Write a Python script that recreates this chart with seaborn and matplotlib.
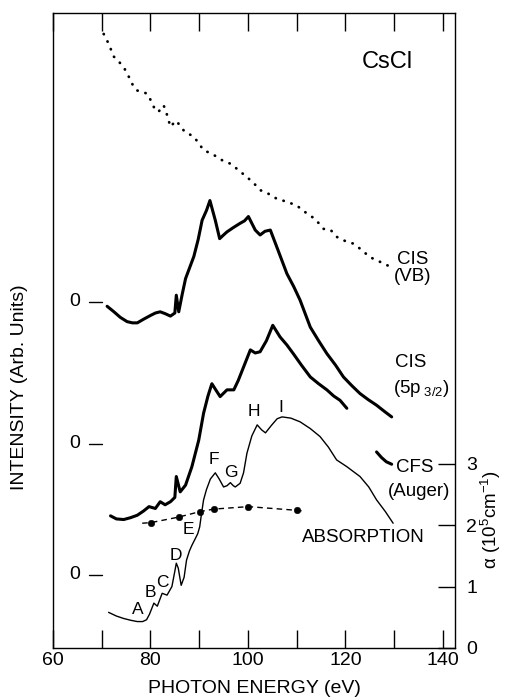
import matplotlib
matplotlib.use("Agg")
import matplotlib.pyplot as plt
import seaborn as sns
import pandas as pd

# ---------------- data (photon energy in eV, vertical position in alpha units) ----------------
vb_x = [70.4, 71.3, 72.5, 73.4, 74.5, 75.2, 75.9, 76.6, 77.3, 78.2, 79.3, 80.0, 80.7, 81.6, 82.7, 83.3,
        84.1, 85.2, 86.1, 87.0, 88.9, 90.0, 90.9, 92.3, 93.7, 95.0, 96.4, 98.0, 99.8, 101.0, 102.5,
        104.0, 105.9, 108.0, 110.0, 112.1, 113.8, 115.5, 117.0, 118.2, 120.0, 121.6, 123.3, 125.0,
        126.7, 128.4, 129.8]
vb_y = [9.99, 9.85, 9.62, 9.55, 9.45, 9.35, 9.24, 9.12, 9.07, 9.05, 9.02, 8.92, 8.80, 8.72, 8.83, 8.70,
        8.48, 8.58, 8.50, 8.40, 8.32, 8.20, 8.10, 8.05, 7.99, 7.92, 7.88, 7.78, 7.66, 7.58, 7.45,
        7.40, 7.31, 7.26, 7.20, 7.07, 6.98, 6.82, 6.80, 6.69, 6.62, 6.58, 6.48, 6.36, 6.30, 6.23, 6.20]

p32_x = [71.1, 72.5, 73.8, 75.2, 76.3, 77.3, 78.6, 80.0, 81.0, 82.0, 83.0, 84.1, 85.0, 85.3, 85.8,
         86.5, 87.2, 88.0, 88.9, 89.8, 90.6, 91.5, 92.2, 93.3, 94.2, 95.0, 95.7, 97.0, 98.4, 99.3,
         100.1, 101.5, 102.5, 103.5, 104.6, 105.9, 107.0, 108.0, 109.4, 110.7, 112.8, 114.5, 116.2,
         118.0, 119.6, 121.3, 123.0, 124.7, 126.4, 128.0, 129.5]
p32_y = [5.56, 5.47, 5.38, 5.31, 5.29, 5.29, 5.35, 5.41, 5.45, 5.47, 5.44, 5.40, 5.45, 5.74, 5.47,
         5.75, 6.01, 6.18, 6.37, 6.65, 6.96, 7.12, 7.28, 6.96, 6.66, 6.72, 6.77, 6.84, 6.91, 6.95,
         7.02, 6.80, 6.72, 6.78, 6.80, 6.53, 6.30, 6.09, 5.88, 5.66, 5.22, 5.00, 4.79, 4.60, 4.41,
         4.27, 4.14, 4.04, 3.95, 3.85, 3.76]

cfs_x = [71.8, 73.0, 74.5, 75.9, 77.3, 78.6, 79.7, 81.0, 82.0, 83.0, 84.1, 85.0, 85.3, 86.1, 87.2,
         88.5, 89.9, 90.9, 91.8, 92.6, 93.4, 94.3, 95.7, 97.1, 98.0, 99.1, 100.5, 101.5, 102.5,
         103.8, 105.1, 106.6, 108.0, 109.3, 111.0, 112.8, 114.5, 116.2, 117.6, 118.9, 120.3]
cfs_y = [2.15, 2.10, 2.09, 2.12, 2.16, 2.23, 2.30, 2.27, 2.38, 2.33, 2.38, 2.45, 2.79, 2.54, 2.65,
         2.95, 3.38, 3.82, 4.10, 4.30, 4.20, 4.09, 4.20, 4.20, 4.35, 4.57, 4.85, 4.80, 4.82,
         5.00, 5.25, 5.06, 4.93, 4.79, 4.60, 4.41, 4.30, 4.20, 4.10, 4.03, 3.90]

cfs_tail_x = [126.4, 127.4, 128.4, 129.5]
cfs_tail_y = [3.19, 3.10, 3.03, 2.99]

abs_x = [71.4, 73.0, 74.5, 76.0, 77.3, 78.4, 79.2, 79.8, 80.7, 81.4, 82.4, 83.4, 84.4, 85.0, 85.3,
         85.7, 86.3, 86.9, 87.4, 88.0, 88.5, 89.2, 89.7, 90.1, 90.5, 90.9, 91.5, 92.3, 93.3, 94.1,
         95.0, 95.7, 96.4, 97.0, 97.4, 98.4, 99.1, 99.8, 100.8, 101.9, 102.8, 103.6, 104.8, 106.0,
         107.0, 108.8, 110.7, 112.8, 114.8, 116.5, 118.2, 120.3, 123.0, 124.8, 126.4, 128.2, 129.8]
abs_y = [0.58, 0.52, 0.48, 0.45, 0.43, 0.43, 0.46, 0.55, 0.73, 0.68, 0.89, 0.86, 1.00, 1.25, 1.38,
         1.30, 1.02, 1.15, 1.43, 1.58, 1.67, 1.78, 1.86, 1.97, 2.20, 2.41, 2.58, 2.75, 2.85, 2.75,
         2.62, 2.64, 2.69, 2.64, 2.62, 2.68, 2.85, 3.17, 3.45, 3.63, 3.55, 3.50, 3.62, 3.73,
         3.76, 3.74, 3.68, 3.57, 3.44, 3.27, 3.06, 2.95, 2.79, 2.62, 2.41, 2.22, 2.03]

absdot_x = [80.1, 85.8, 90.2, 93.0, 100.1, 110.0]
absdot_y = [2.04, 2.13, 2.22, 2.26, 2.30, 2.24]
absdash_x = [78.3, 80.1, 85.8, 90.2, 93.0, 100.1, 110.0, 111.4]
absdash_y = [2.03, 2.04, 2.13, 2.22, 2.26, 2.30, 2.24, 2.23]

feature_labels = ["A", "B", "C", "D", "E", "F", "G", "H", "I"]
feature_x = [77.3, 80.0, 82.4, 85.3, 87.8, 93.0, 96.5, 101.2, 106.8]
feature_y = [0.62, 0.90, 1.06, 1.51, 1.93, 3.06, 2.85, 3.84, 3.92]

zero_levels = [5.63, 3.32, 1.19]

x_ticks = [60, 70, 80, 90, 100, 110, 120, 130, 140]
x_ticklabels = ["60", "", "80", "", "100", "", "120", "", "140"]
alpha_ticks = [0, 1, 2, 3]

# ---------------- style ----------------
sns.set_theme(style="ticks")
plt.rcParams['font.family'] = ['Liberation Sans', 'DejaVu Sans']
plt.rcParams['mathtext.fontset'] = 'custom'
plt.rcParams['mathtext.rm'] = 'Liberation Sans'
plt.rcParams['mathtext.it'] = 'Liberation Sans:italic'

fig = plt.figure(figsize=(5.05, 7.0), dpi=100)
ax = fig.add_axes([0.105, 0.0743, 0.796, 0.907])

k = 'black'
sns.lineplot(x=vb_x, y=vb_y, ax=ax, sort=False, estimator=None, color=k,
             lw=2.0, linestyle=(0, (0.1, 2.9)), dash_capstyle='round')
sns.lineplot(x=p32_x, y=p32_y, ax=ax, sort=False, estimator=None, color=k, lw=2.2)
sns.lineplot(x=cfs_x, y=cfs_y, ax=ax, sort=False, estimator=None, color=k, lw=2.2)
sns.lineplot(x=cfs_tail_x, y=cfs_tail_y, ax=ax, sort=False, estimator=None, color=k, lw=2.2)
sns.lineplot(x=abs_x, y=abs_y, ax=ax, sort=False, estimator=None, color=k, lw=1.0)
sns.lineplot(x=absdash_x, y=absdash_y, ax=ax, sort=False, estimator=None, color=k,
             lw=1.0, linestyle=(0, (4, 3)))
sns.scatterplot(x=absdot_x, y=absdot_y, ax=ax, color=k, s=22, edgecolor=k, zorder=5)

ax.set_xlim(60, 142.5)
ax.set_ylim(0, 10.33)

for sp in ax.spines.values():
    sp.set_visible(True)
    sp.set_color(k)
    sp.set_linewidth(1.0)

ax.set_xticks(x_ticks)
ax.set_xticklabels(x_ticklabels)
ax.tick_params(axis='x', direction='in', length=13, width=1, top=True, bottom=True,
               labelsize=14, pad=3, colors=k)
ax.yaxis.tick_right()
ax.set_yticks(alpha_ticks)
ax.set_yticklabels([str(t) for t in alpha_ticks])
ax.tick_params(axis='y', direction='in', length=12, width=1, left=False, right=True,
               labelsize=14, pad=8, colors=k)

ax.set_xlabel("PHOTON ENERGY (eV)", fontsize=14, labelpad=8, color=k)
fig.text(20 / 505, 1 - 387 / 700, "INTENSITY (Arb. Units)", rotation=90, ha='center', va='center',
         fontsize=14, color=k)
fig.text(491 / 505, 1 - 520 / 700, "α (10$^{5}$cm$^{-1}$)", rotation=90, ha='center', va='center',
         fontsize=13.5, color=k)

# zero markers for intensity curves
for z in zero_levels:
    ax.text(64.4, z, "0", ha='center', va='center', fontsize=14, color=k)
    ax.plot([67.4, 70.1], [z, z], color=k, lw=1.0)

# feature letters
for lab, fx, fy in zip(feature_labels, feature_x, feature_y):
    ax.text(fx, fy, lab, ha='center', va='center', fontsize=12.5, color=k)

ax.text(128.6, 9.53, "CsCl", ha='center', va='center', fontsize=17, color=k)
ax.text(133.9, 6.18, "CIS\n(VB)", ha='center', va='center', fontsize=13.5, color=k,
        linespacing=0.95)
ax.text(133.5, 4.65, "CIS", ha='center', va='center', fontsize=13.5, color=k)
ax.text(135.6, 4.23, "(5p$_{\\ 3/2}$)", ha='center', va='center', fontsize=13.5, color=k)
ax.text(134.2, 2.94, "CFS", ha='center', va='center', fontsize=13.5, color=k)
ax.text(135.2, 2.54, "(Auger)", ha='center', va='center', fontsize=13.5, color=k)
ax.text(123.6, 1.80, "ABSORPTION", ha='center', va='center', fontsize=13.5, color=k)

fig.savefig("out.png", dpi=100)
